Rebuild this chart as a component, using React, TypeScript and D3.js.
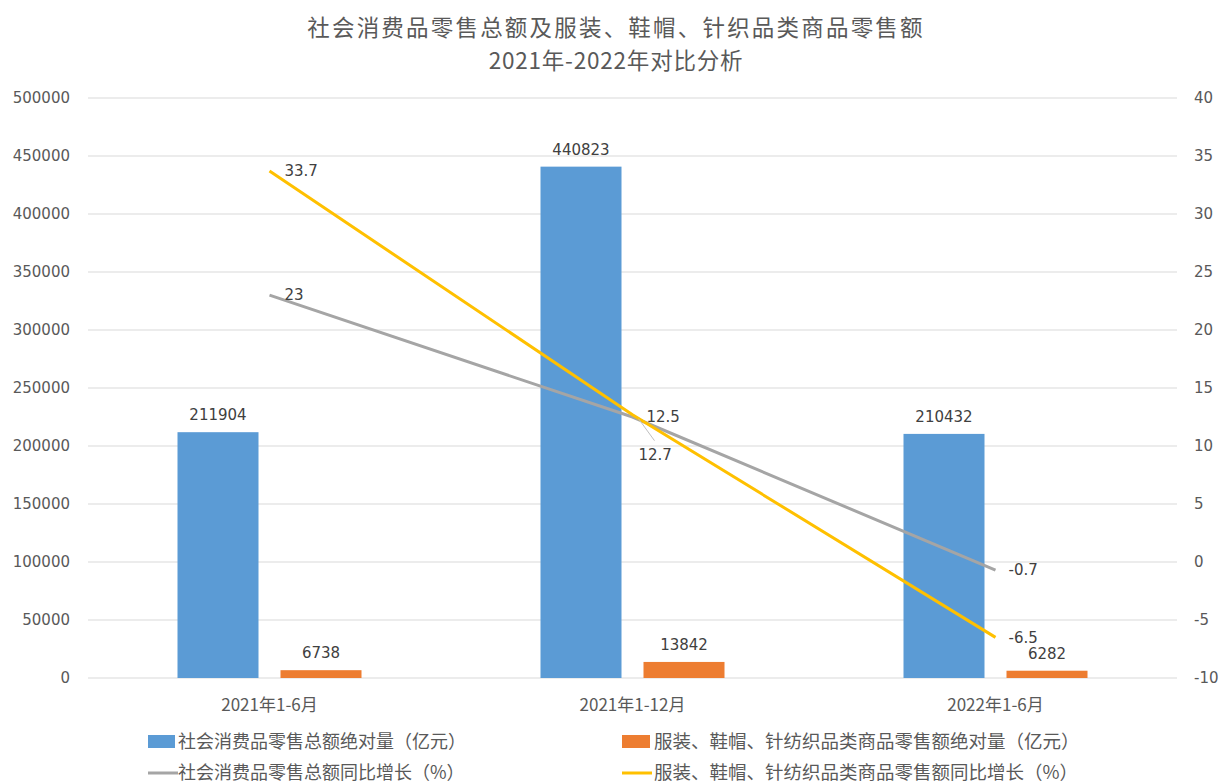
import React from "react";
import * as d3 from "d3";

const categories = ["2021年1-6月", "2021年1-12月", "2022年1-6月"];
const totalSales = [211904, 440823, 210432];
const apparelSales = [6738, 13842, 6282];
const totalGrowth = [23, 12.5, -0.7];
const apparelGrowth = [33.7, 12.7, -6.5];
const leftTicks = [0, 50000, 100000, 150000, 200000, 250000, 300000, 350000, 400000, 450000, 500000];
const rightTicks = [-10, -5, 0, 5, 10, 15, 20, 25, 30, 35, 40];
const seriesNames = [
  "社会消费品零售总额绝对量（亿元）",
  "服装、鞋帽、针纺织品类商品零售额绝对量（亿元）",
  "社会消费品零售总额同比增长（%）",
  "服装、鞋帽、针纺织品类商品零售额同比增长（%）",
];
const titleLines = ["社会消费品零售总额及服装、鞋帽、针织品类商品零售额", "2021年-2022年对比分析"];

const W = 1220, H = 784;
const left = 88, right = 1177, top = 98, bottom = 678;
const BLUE = "#5B9BD5", ORANGE = "#ED7D31", GREY = "#A5A5A5", YELLOW = "#FFC000";
const NUM = "'DejaVu Sans', 'Noto Sans', sans-serif";
const CJK = "'Noto Sans CJK SC', sans-serif";

export default function App() {
  const x = d3.scaleBand<string>().domain(categories).range([left, right]).padding(0);
  const yL = d3.scaleLinear().domain([0, 500000]).range([bottom, top]);
  const yR = d3.scaleLinear().domain([-10, 40]).range([bottom, top]);
  const barW = 81, gap = 22;
  const cx = (c: string) => (x(c) as number) + x.bandwidth() / 2;
  const line = d3.line<number>().x((_, i) => cx(categories[i])).y((d) => yR(d));

  return (
    <svg width={W} height={H} style={{ position: "absolute", left: 0, top: 0, background: "#fff" }}>
      {titleLines.map((t, i) => (
        <text key={i} x={616} y={36 + i * 33} textAnchor="middle" fontFamily={CJK} fontSize={22.5} letterSpacing={i === 0 ? 2.2 : 0.8} fill="#595959">{t}</text>
      ))}
      {leftTicks.map((t) => (
        <g key={"l" + t}>
          <line x1={left} x2={right} y1={yL(t)} y2={yL(t)} stroke="#D9D9D9" strokeWidth={1} />
          <text x={70} y={yL(t)} dy="0.35em" textAnchor="end" fontFamily={NUM} fontSize={15} fill="#595959">{t}</text>
        </g>
      ))}
      {rightTicks.map((t) => (
        <text key={"r" + t} x={1194} y={yR(t)} dy="0.35em" textAnchor="start" fontFamily={NUM} fontSize={15} fill="#595959">{t}</text>
      ))}
      {categories.map((c, i) => (
        <g key={c}>
          <rect x={cx(c) - gap / 2 - barW} y={yL(totalSales[i])} width={barW} height={bottom - yL(totalSales[i])} fill={BLUE} />
          <rect x={cx(c) + gap / 2} y={yL(apparelSales[i])} width={barW} height={bottom - yL(apparelSales[i])} fill={ORANGE} />
          <text x={cx(c) - gap / 2 - barW / 2} y={yL(totalSales[i]) - 12} textAnchor="middle" fontFamily={NUM} fontSize={15} fill="#404040">{totalSales[i]}</text>
          <text x={cx(c) + gap / 2 + barW / 2} y={yL(apparelSales[i]) - 12} textAnchor="middle" fontFamily={NUM} fontSize={15} fill="#404040">{apparelSales[i]}</text>
          <text x={cx(c)} y={711} textAnchor="middle" fontFamily={CJK} fontSize={17} fill="#595959">{c}</text>
        </g>
      ))}
      <path d={line(totalGrowth) || ""} fill="none" stroke={GREY} strokeWidth={3} />
      <path d={line(apparelGrowth) || ""} fill="none" stroke={YELLOW} strokeWidth={3} />
      <text x={cx(categories[0]) + 15} y={yR(totalGrowth[0])} dy="0.35em" fontFamily={NUM} fontSize={15} fill="#404040">{totalGrowth[0]}</text>
      <text x={cx(categories[0]) + 15} y={yR(apparelGrowth[0])} dy="0.35em" fontFamily={NUM} fontSize={15} fill="#404040">{apparelGrowth[0]}</text>
      <text x={cx(categories[1]) + 14} y={yR(totalGrowth[1])} dy="0.35em" fontFamily={NUM} fontSize={15} fill="#404040">{totalGrowth[1]}</text>
      <line x1={cx(categories[1]) + 6} y1={yR(apparelGrowth[1]) + 4} x2={cx(categories[1]) + 22} y2={yR(apparelGrowth[1]) + 26} stroke="#BFBFBF" strokeWidth={1} />
      <text x={cx(categories[1]) + 6} y={yR(apparelGrowth[1]) + 40} dy="0.35em" fontFamily={NUM} fontSize={15} fill="#404040">{apparelGrowth[1]}</text>
      <text x={cx(categories[2]) + 13} y={yR(totalGrowth[2])} dy="0.35em" fontFamily={NUM} fontSize={15} fill="#404040">{totalGrowth[2]}</text>
      <text x={cx(categories[2]) + 13} y={yR(apparelGrowth[2])} dy="0.35em" fontFamily={NUM} fontSize={15} fill="#404040">{apparelGrowth[2]}</text>
      <rect x={148} y={735} width={27} height={13} fill={BLUE} />
      <text x={178} y={742} dy="0.35em" fontFamily={CJK} fontSize={18} fill="#595959">{seriesNames[0]}</text>
      <rect x={622} y={735} width={28} height={13} fill={ORANGE} />
      <text x={654} y={742} dy="0.35em" fontFamily={CJK} fontSize={18.5} fill="#595959">{seriesNames[1]}</text>
      <line x1={148} x2={178} y1={773} y2={773} stroke={GREY} strokeWidth={3} />
      <text x={178} y={773} dy="0.35em" fontFamily={CJK} fontSize={18} fill="#595959">{seriesNames[2]}</text>
      <line x1={622} x2={652} y1={773} y2={773} stroke={YELLOW} strokeWidth={3} />
      <text x={654} y={773} dy="0.35em" fontFamily={CJK} fontSize={18.5} fill="#595959">{seriesNames[3]}</text>
    </svg>
  );
}
